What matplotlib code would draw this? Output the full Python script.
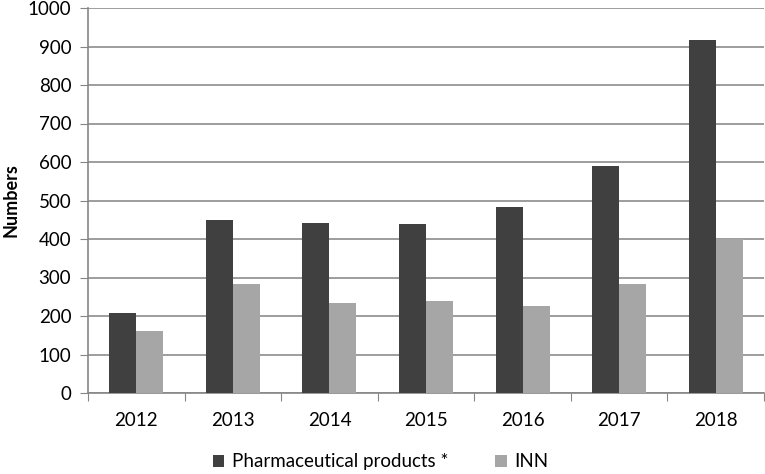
import numpy as np
import matplotlib.pyplot as plt

years = ["2012", "2013", "2014", "2015", "2016", "2017", "2018"]
pharma = [209, 449, 442, 438, 483, 590, 917]
inn = [162, 284, 233, 240, 227, 284, 400]

plt.rcParams['font.family'] = ['Lato', 'DejaVu Sans']

fig = plt.figure(figsize=(7.65, 4.74), dpi=100)
ax = fig.add_axes([88/765, 1 - 393/474, 676/765, 385/474])

x = np.arange(len(years))
w = 0.28
ax.bar(x - w/2, pharma, w, color='#404040', label='Pharmaceutical products *', zorder=3)
ax.bar(x + w/2, inn, w, color='#a6a6a6', label='INN', zorder=3)

ax.set_xlim(-0.5, len(years) - 0.5)
ax.set_ylim(0, 1000)
ax.set_yticks(range(0, 1001, 100))
ax.set_xticks(np.arange(len(years) + 1) - 0.5, minor=False)
ax.set_xticklabels([])
ax.set_xticks(x, minor=True)
ax.set_xticklabels(years, minor=True)
ax.tick_params(axis='x', which='minor', length=0, labelsize=13.5, pad=14)
ax.tick_params(axis='x', which='major', length=6, color='#868686', direction='out')
ax.tick_params(axis='y', length=6, color='#868686', labelsize=13.5, pad=6)

ax.grid(axis='y', color='#8c8c8c', linewidth=1.2, zorder=0)
for s in ['top', 'right']:
    ax.spines[s].set_visible(False)
for s in ['left', 'bottom']:
    ax.spines[s].set_color('#868686')
    ax.spines[s].set_linewidth(1.2)

ax.set_ylabel('Numbers', fontsize=13, fontweight='bold', labelpad=6)

ax.legend(loc='center', bbox_to_anchor=(0.433, -0.179), ncol=2, frameon=False,
          fontsize=13.5, handlelength=0.6, handleheight=0.6, handletextpad=0.4,
          columnspacing=2.5)

fig.savefig('out.png', dpi=100)
